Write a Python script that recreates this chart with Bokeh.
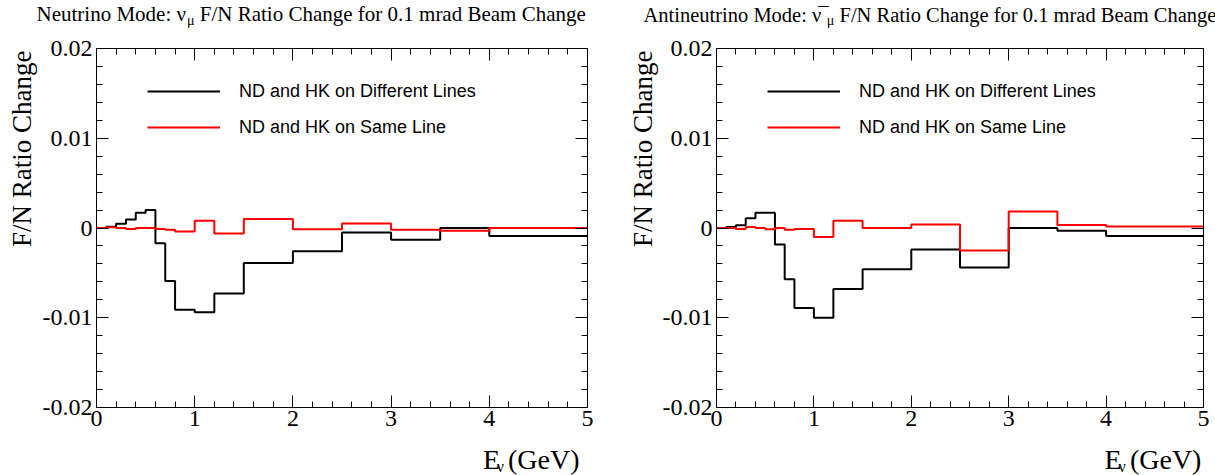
import math
from bokeh.plotting import figure
from bokeh.layouts import row, column
from bokeh.models import LinearAxis, FixedTicker, Label, Legend, LegendItem, Range1d
from bokeh.embed import file_html
from bokeh.resources import INLINE

# ---------------- data ----------------
bin_edges = [0.0, 0.1, 0.2, 0.3, 0.4, 0.5, 0.6, 0.7, 0.8, 1.0, 1.2, 1.5, 2.0, 2.5, 3.0, 3.5, 4.0, 5.0]

nu_diff_lines = [0.0, 0.00015, 0.00048, 0.00096, 0.0017, 0.0020, -0.0017, -0.0059, -0.0091, -0.0094,
                 -0.0073, -0.0039, -0.0026, -0.0005, -0.0013, 0.0, -0.0009]
nu_same_line = [0.0, 0.00007, 0.0, -0.0001, 0.0, 0.0, -0.0001, -0.0002, -0.0004, 0.0008,
                -0.0006, 0.0010, -0.00015, 0.0005, -0.0002, -0.0003, 0.0]

anu_diff_lines = [0.0, 0.0001, 0.0003, 0.0011, 0.0017, 0.0017, -0.00185, -0.0057, -0.0089, -0.0100,
                  -0.0068, -0.0046, -0.0024, -0.0044, 0.0, -0.0003, -0.0009]
anu_same_line = [0.0, 0.0, -0.0001, 0.0001, 0.0, -0.00015, 0.0, -0.0002, -0.0001, -0.0010,
                 0.0008, 0.0, 0.0004, -0.0025, 0.00185, 0.00033, 0.00018]

x_major_ticks = [0, 1, 2, 3, 4, 5]
x_minor_ticks = [0.0, 0.2, 0.4, 0.6, 0.8, 1.0, 1.2, 1.4, 1.6, 1.8, 2.0, 2.2, 2.4, 2.6, 2.8, 3.0,
                 3.2, 3.4, 3.6, 3.8, 4.0, 4.2, 4.4, 4.6, 4.8, 5.0]
y_major_ticks = [-0.02, -0.01, 0.0, 0.01, 0.02]
y_tick_labels = ["-0.02", "-0.01", "0", "0.01", "0.02"]
y_minor_ticks = [-0.02, -0.018, -0.016, -0.014, -0.012, -0.01, -0.008, -0.006, -0.004, -0.002, 0.0,
                 0.002, 0.004, 0.006, 0.008, 0.01, 0.012, 0.014, 0.016, 0.018, 0.02]

legend_labels = ["ND and HK on Different Lines", "ND and HK on Same Line"]
y_title = "F/N Ratio Change"
title_rest = "F/N Ratio Change for 0.1 mrad Beam Change"

SERIF = "Liberation Serif"
SANS = "Liberation Sans"
MID = 0.3375  # distance baseline -> middle of em box (in em) for the serif font

H = 475
TITLE_H = 30
XLAB_H = 30
FRAME_T = 48
FRAME_B = 407


def text_fig(w, h):
    f = figure(width=w, height=h, output_backend="svg", toolbar_location=None,
               x_range=Range1d(0, w), y_range=Range1d(h, 0),
               x_axis_type=None, y_axis_type=None, min_border=0)
    f.outline_line_color = None
    f.background_fill_color = "white"
    f.border_fill_color = "white"
    return f


def lab(f, x, base_y, text, size):
    # x: left edge; base_y: wanted alphabetic baseline (pixels from top of strip)
    f.add_layout(Label(x=x, y=base_y - MID * size, text=text, text_font=SERIF,
                       text_font_size=f"{size}px", text_baseline="middle",
                       text_align="left", text_color="black"))


def style(ax, show):
    ax.axis_line_color = "black"
    ax.axis_line_width = 1
    ax.major_tick_line_color = "black"
    ax.minor_tick_line_color = "black"
    ax.major_tick_in = 12
    ax.major_tick_out = 0
    ax.minor_tick_in = 6
    ax.minor_tick_out = 0
    ax.major_label_text_font = SERIF
    ax.major_label_text_font_size = "24px" if show else "1px"
    ax.major_label_text_color = "black"


def make_panel(panel_w, strip_w, fl, fr, title_main, title_main_em, anti, diff, same,
               ylab_base_x, title_x, fs_t):
    pw = panel_w - strip_w
    ph = H - TITLE_H - XLAB_H
    p = figure(width=pw, height=ph, output_backend="svg", toolbar_location=None,
               x_range=Range1d(0, 5), y_range=Range1d(-0.02, 0.02),
               x_axis_type=None, y_axis_type=None,
               min_border_left=fl - strip_w, min_border_right=panel_w - fr,
               min_border_top=FRAME_T - TITLE_H, min_border_bottom=(H - XLAB_H) - FRAME_B)
    p.outline_line_color = "black"
    p.outline_line_width = 1
    p.background_fill_color = "white"
    p.border_fill_color = "white"

    xb = LinearAxis(ticker=FixedTicker(ticks=x_major_ticks, minor_ticks=x_minor_ticks))
    style(xb, True)
    xb.major_label_standoff = 3
    p.add_layout(xb, "below")
    xa = LinearAxis(ticker=FixedTicker(ticks=x_major_ticks, minor_ticks=x_minor_ticks))
    style(xa, False)
    xa.major_label_overrides = {t: "" for t in x_major_ticks}
    p.add_layout(xa, "above")

    yl = LinearAxis(ticker=FixedTicker(ticks=y_major_ticks, minor_ticks=y_minor_ticks))
    style(yl, True)
    yl.major_label_standoff = 4
    yl.major_label_overrides = {t: s for t, s in zip(y_major_ticks, y_tick_labels)}
    p.add_layout(yl, "left")
    yr = LinearAxis(ticker=FixedTicker(ticks=y_major_ticks, minor_ticks=y_minor_ticks))
    style(yr, False)
    yr.major_label_overrides = {t: "" for t in y_major_ticks}
    p.add_layout(yr, "right")

    r1 = p.step(bin_edges, diff + [diff[-1]], mode="after", line_color="black", line_width=2)
    r2 = p.step(bin_edges, same + [same[-1]], mode="after", line_color="#ff0000", line_width=2)

    leg = Legend(items=[LegendItem(label=legend_labels[0], renderers=[r1]),
                        LegendItem(label=legend_labels[1], renderers=[r2])],
                 location=(51, FRAME_B - 138), orientation="vertical",
                 padding=0, margin=0, spacing=14, glyph_width=73, glyph_height=22,
                 label_height=22, label_standoff=19,
                 label_text_font=SANS, label_text_font_size="18px", label_text_color="black",
                 background_fill_alpha=0, border_line_alpha=0)
    p.add_layout(leg, "center")

    # ---- title strip ----
    tf = text_fig(panel_w, TITLE_H)
    tb = 21
    lab(tf, title_x, tb, title_main, fs_t)
    if anti:
        nu_left = title_x + (title_main_em - 0.5) * fs_t
        lab(tf, nu_left + 0.083 * fs_t, tb, "\u00af", fs_t)
    mx = title_x + title_main_em * fs_t
    lab(tf, mx, tb + 4, "μ", 14)
    lab(tf, mx + 7.5 + 0.25 * fs_t, tb, title_rest, fs_t)

    # ---- y title strip (rotated, reads upward, ends at the frame top) ----
    yf = text_fig(strip_w, H - TITLE_H)
    fs_y = 27
    y_len = 7.278 * fs_y
    yf.add_layout(Label(x=ylab_base_x - MID * fs_y, y=FRAME_T + 2 + y_len - TITLE_H, text=y_title,
                        text_font=SERIF, text_font_size=f"{fs_y}px", angle=math.pi / 2,
                        text_align="left", text_baseline="middle", text_color="black"))

    # ---- x title strip ----
    xf = text_fig(pw, XLAB_H)
    fs_x = 28
    fr_s = fr - strip_w
    base = 468 - (H - XLAB_H)
    lab(xf, fr_s - 101, base, "E", fs_x)
    lab(xf, fr_s - 85, base + 3, "ν", 16)
    lab(xf, fr_s - 72, base, "(GeV)", fs_x)

    return column(tf, row(yf, column(p, xf)))


panel1 = make_panel(607, 39, 94, 587, "Neutrino Mode: ν", 7.166, False,
                    nu_diff_lines, nu_same_line, 31, 36, 21)
panel2 = make_panel(608, 52, 107, 596, "Antineutrino Mode: ν", 8.944, True,
                    anu_diff_lines, anu_same_line, 45, 36, 20.5)

layout = row(panel1, panel2)
open("out.html", "w").write(file_html(layout, INLINE))
